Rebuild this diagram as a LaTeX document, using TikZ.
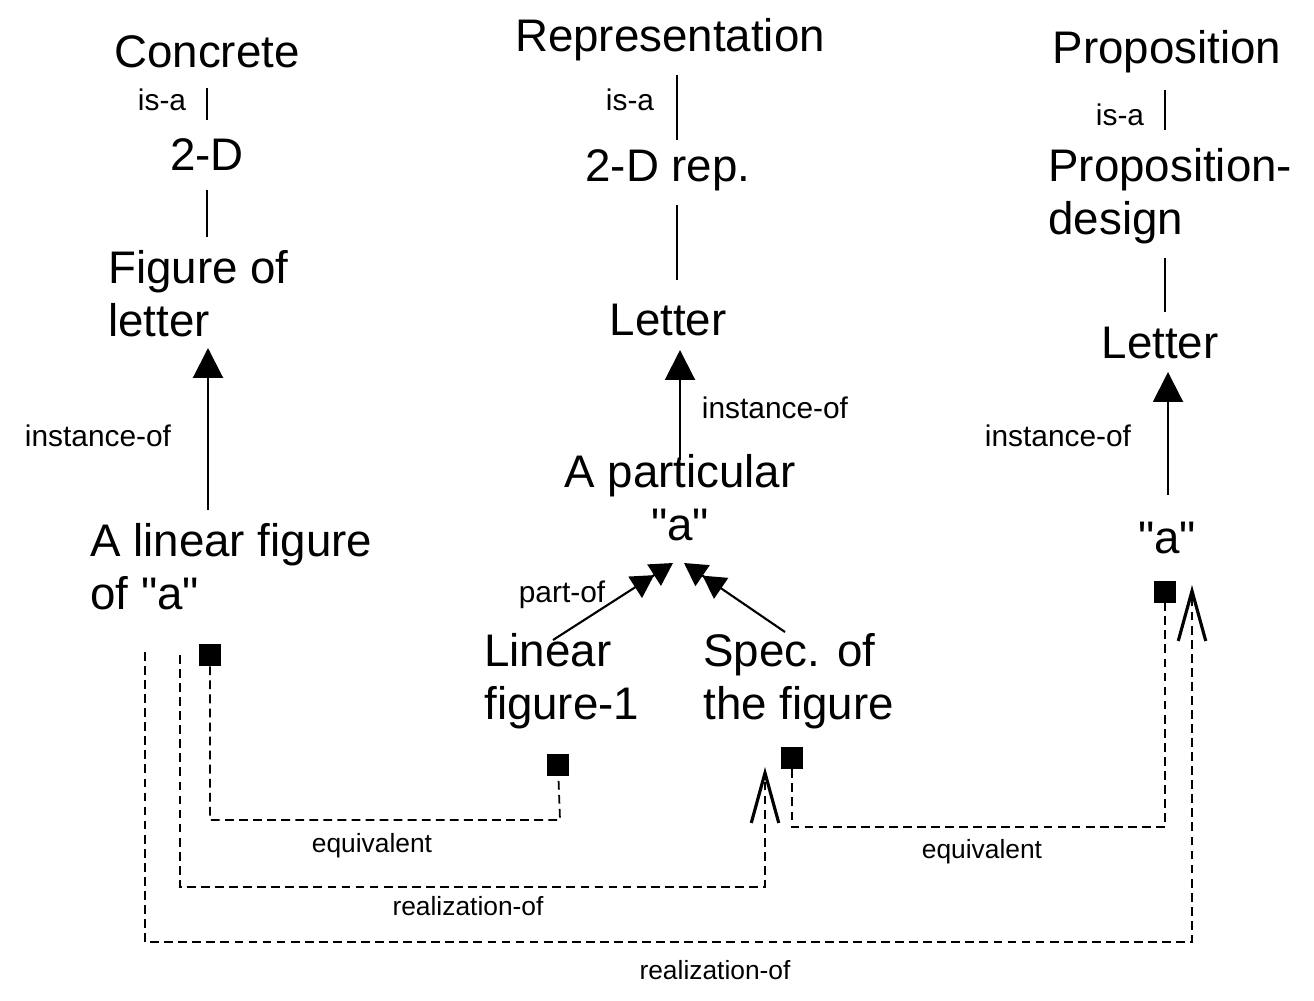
\documentclass[tikz,border=0pt]{standalone}
\usepackage{fontspec}
\setmainfont{Liberation Sans}
\usetikzlibrary{arrows.meta}
\newcommand{\qq}{{\XeTeXglyph\XeTeXcharglyph"22\relax}}
\begin{document}
\begin{tikzpicture}[x=0.02cm,y=-0.02cm,
  big/.style={font=\fontsize{26}{30}\selectfont,inner sep=0pt},
  lbl/.style={font=\fontsize{17}{19}\selectfont,inner sep=0pt},
  small/.style={font=\fontsize{15}{17}\selectfont,inner sep=0pt},
  ln/.style={line width=1.2pt},
  inst/.style={line width=1.2pt,-{Triangle[length=0.6cm,width=0.6cm]}},
  part/.style={line width=1.2pt,-{Triangle[length=0.45cm,width=0.5cm]Triangle[length=0.45cm,width=0.5cm]}},
  dsh/.style={line width=1pt,dash pattern=on 5pt off 3pt},
  real/.style={dsh,-{Straight Barb[length=1cm,width=0.55cm,line width=1.8pt]}},
  sq/.style={fill=black,minimum size=0.44cm,inner sep=0pt}]
\useasboundingbox (0,0) rectangle (1314,1000);
% left column
\node[big] (conc) at (207,52) {Concrete};
\node[big] (twod) at (207,155) {2-D};
\node[big,align=left,anchor=north west] (fig) at (108,250) {Figure of\\letter};
\node[big,align=left,anchor=north west] (lin) at (90,523) {A linear figure\\of \qq a\qq};
\coordinate (c1a) at (207,88); \coordinate (c1b) at (207,120);
\draw[ln] (c1a) -- (c1b);
\node[lbl] (isa1) at (162,100) {is-a};
\coordinate (c2a) at (207,190); \coordinate (c2b) at (207,237);
\draw[ln] (c2a) -- (c2b);
\coordinate (i1a) at (208,510); \coordinate (i1b) at (208,348);
\draw[inst] (i1a) -- (i1b);
\node[lbl] (io1) at (98,436) {instance-of};
% middle column
\node[big] (rep) at (670,40) {Representation};
\node[big] (tdr) at (668,170) {2-D rep.};
\node[big] (let2) at (668,320) {Letter};
\node[big,align=center] (part) at (680,498) {A particular\\\qq a\qq};
\node[big,align=left,anchor=north west] (linf) at (484,633) {Linear\\figure-1};
\node[big,align=left,anchor=north west] (spec) at (703,633) {Spec. of\\the figure};
\coordinate (m1a) at (677,75); \coordinate (m1b) at (677,140);
\draw[ln] (m1a) -- (m1b);
\node[lbl] (isa2) at (630,100) {is-a};
\coordinate (m2a) at (677,205); \coordinate (m2b) at (677,280);
\draw[ln] (m2a) -- (m2b);
\coordinate (i2a) at (680,460); \coordinate (i2b) at (680,350);
\draw[inst] (i2a) -- (i2b);
\node[lbl] (io2) at (775,408) {instance-of};
\coordinate (p1a) at (553,640); \coordinate (p1b) at (673,563);
\coordinate (p2a) at (785,632); \coordinate (p2b) at (684,563);
\draw[part] (p1a) -- (p1b);
\draw[part] (p2a) -- (p2b);
\node[lbl] (po) at (562,595) {part-of};
% right column
\node[big] (prop) at (1167,52) {Proposition};
\node[big,align=left,anchor=north west] (pd) at (1048,148) {Proposition-\\design};
\node[big] (let3) at (1160,343) {Letter};
\node[big] (a3) at (1167,538) {\qq a\qq};
\coordinate (r1a) at (1165,90); \coordinate (r1b) at (1165,130);
\draw[ln] (r1a) -- (r1b);
\node[lbl] (isa3) at (1120,115) {is-a};
\coordinate (r2a) at (1165,258); \coordinate (r2b) at (1165,312);
\draw[ln] (r2a) -- (r2b);
\coordinate (i3a) at (1168,495); \coordinate (i3b) at (1168,372);
\draw[inst] (i3a) -- (i3b);
\node[lbl] (io3) at (1058,436) {instance-of};
% squares
\node[sq] (s1) at (210,655) {};
\node[sq] (s2) at (558,765) {};
\node[sq] (s3) at (792,758) {};
\node[sq] (s4) at (1165,592) {};
% dashed connectors
\draw[dsh] (s1) |- (560,820) -- (s2);
\node[small] (eq1) at (372,846) {equivalent};
\coordinate (d2s) at (180,655); \coordinate (d2e) at (765,767);
\draw[real] (d2s) |- (765,887) -- (d2e);
\node[small] (re1) at (468,906) {realization-of};
\draw[dsh] (s3) |- (1165,827) -- (s4);
\node[small] (eq2) at (982,852) {equivalent};
\coordinate (d4s) at (145,652); \coordinate (d4e) at (1192,585);
\draw[real] (d4s) |- (1192,942) -- (d4e);
\node[small] (re2) at (715,970) {realization-of};
\end{tikzpicture}
\end{document}
